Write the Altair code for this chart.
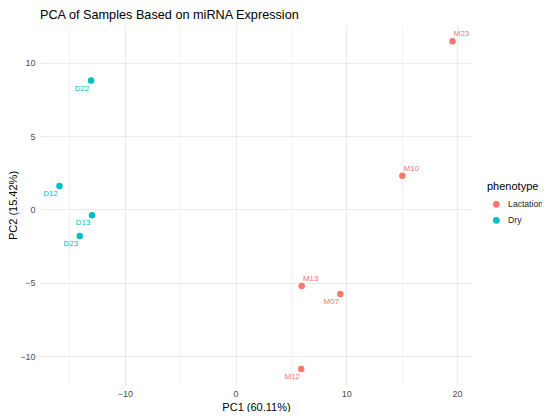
import altair as alt
import pandas as pd

samples = ["D22", "D12", "D13", "D23", "M23", "M10", "M13", "M07", "M12"]
pc1 = [-13.05, -15.9, -12.96, -14.07, 19.6, 15.07, 5.98, 9.47, 5.94]
pc2 = [8.79, 1.6, -0.4, -1.81, 11.47, 2.3, -5.22, -5.76, -10.88]
phenotype = ["Dry", "Dry", "Dry", "Dry", "Lactation", "Lactation", "Lactation", "Lactation", "Lactation"]
label_side = ["below", "below", "below", "below", "above", "above", "above", "below", "below"]

df = pd.DataFrame({"sample": samples, "PC1": pc1, "PC2": pc2,
                   "phenotype": phenotype, "side": label_side})

FONT = "Liberation Sans"
color = alt.Color("phenotype:N",
                  scale=alt.Scale(domain=["Lactation", "Dry"], range=["#F8766D", "#00BFC4"]),
                  legend=alt.Legend(title="phenotype", orient="none", legendX=447, legendY=156,
                                    titleFontSize=11, titleFontWeight="normal", titleColor="#000000",
                                    labelFontSize=8.6, labelColor="#1a1a1a", symbolType="circle",
                                    symbolSize=45, symbolStrokeWidth=0, titlePadding=8, rowPadding=7,
                                    labelOffset=7.5, symbolOffset=5))

xscale = alt.Scale(domain=[-17.66, 21.36], nice=False, zero=False)
yscale = alt.Scale(domain=[-11.97, 12.58], nice=False, zero=False)

xaxis = alt.Axis(title="PC1 (60.11%)", values=[-15, -10, -5, 0, 5, 10, 15, 20],
                 labelExpr="datum.value % 10 === 0 ? datum.label : ''",
                 gridWidth={"condition": {"test": "datum.value % 10 !== 0", "value": 0.6}, "value": 1.2},
                 titlePadding=3, labelPadding=4)
yaxis = alt.Axis(title="PC2 (15.42%)", values=[-10, -7.5, -5, -2.5, 0, 2.5, 5, 7.5, 10, 12.5],
                 labelExpr="datum.value % 5 === 0 ? datum.label : ''",
                 gridWidth={"condition": {"test": "datum.value % 5 !== 0", "value": 0.6}, "value": 1.2},
                 titlePadding=1, labelPadding=5)

base = alt.Chart(df)
points = base.mark_circle(size=42, opacity=1).encode(
    x=alt.X("PC1:Q", scale=xscale, axis=xaxis),
    y=alt.Y("PC2:Q", scale=yscale, axis=yaxis),
    color=color,
)
lab_below = base.transform_filter(alt.datum.side == "below").mark_text(
    font=FONT, fontSize=8, dx=-9, dy=8, align="center", baseline="middle"
).encode(x="PC1:Q", y="PC2:Q", text="sample:N", color=alt.Color("phenotype:N", legend=None))
lab_above = base.transform_filter(alt.datum.side == "above").mark_text(
    font=FONT, fontSize=8, dx=9, dy=-7, align="center", baseline="middle"
).encode(x="PC1:Q", y="PC2:Q", text="sample:N", color=alt.Color("phenotype:N", legend=None))

chart = alt.layer(points, lab_below, lab_above).properties(
    width=432, height=360,
    title=alt.TitleParams("PCA of Samples Based on miRNA Expression", anchor="start", frame="group",
                          fontSize=12.7, fontWeight="normal", font=FONT, color="#000000", offset=3),
    autosize=alt.AutoSizeParams(type="none"),
    padding={"left": 32, "top": 17, "right": 70, "bottom": 27},
).configure_view(stroke=None).configure_axis(
    domain=False, ticks=False, labelFont=FONT, titleFont=FONT, labelFontSize=9,
    labelColor="#4d4d4d", titleFontSize=11, titleFontWeight="normal", titleColor="#000000",
    gridColor="#ebebeb"
).configure_legend(labelFont=FONT, titleFont=FONT)

chart.save("out.html", embed_options={"renderer": "svg", "actions": False})
